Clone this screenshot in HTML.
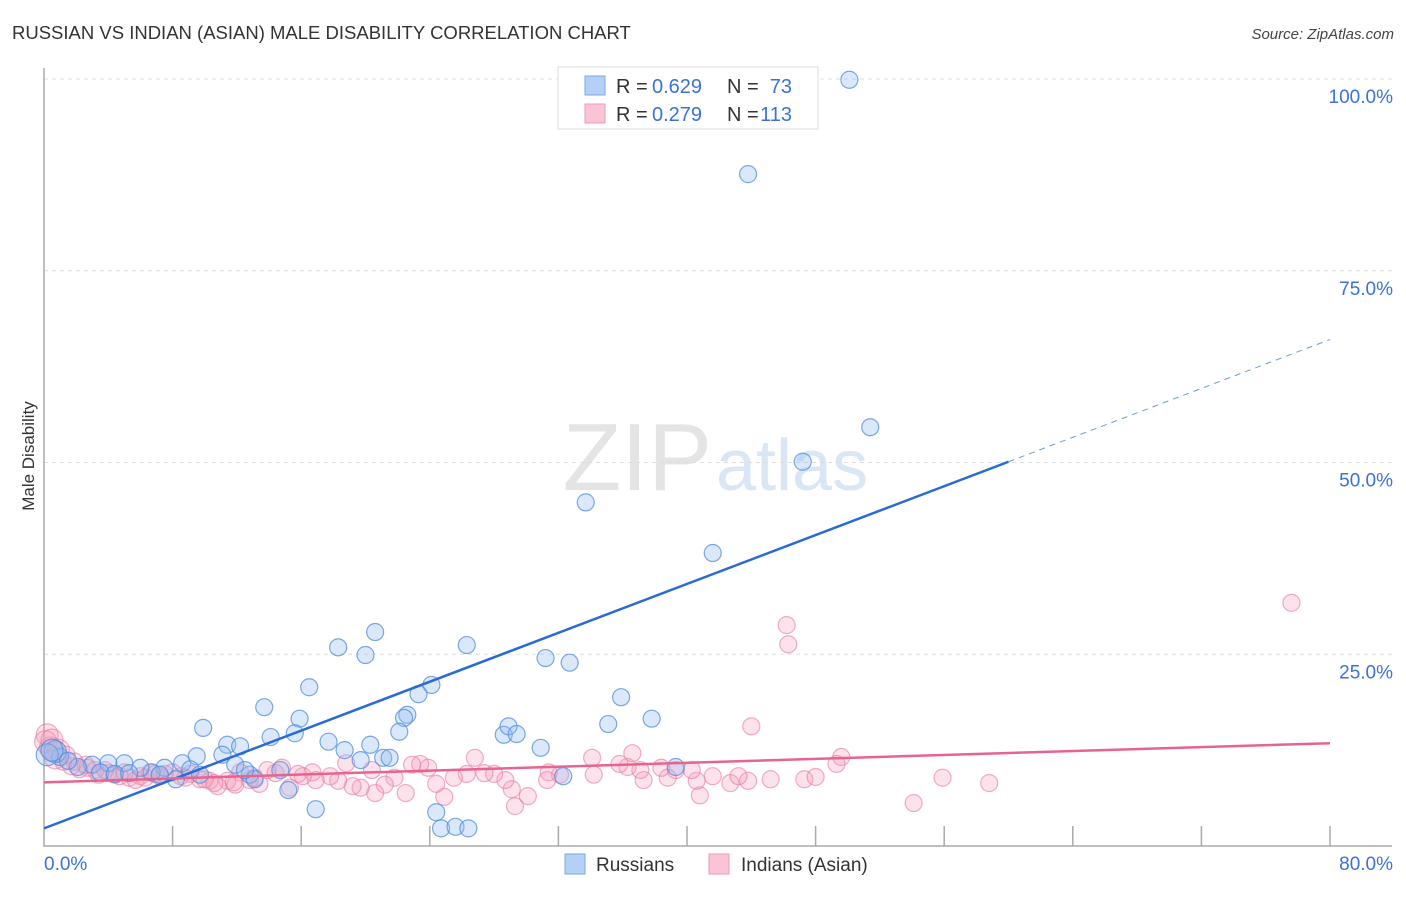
<!DOCTYPE html>
<html><head><meta charset="utf-8"><style>
body{margin:0;background:#fff;font-family:"Liberation Sans",sans-serif;}
svg text{font-family:"Liberation Sans",sans-serif;}
</style></head><body>
<svg id="chart" width="1406" height="892" viewBox="0 0 1406 892" xmlns="http://www.w3.org/2000/svg">
<text x="12" y="39" font-size="18.5" fill="#333">RUSSIAN VS INDIAN (ASIAN) MALE DISABILITY CORRELATION CHART</text>
<text x="1394" y="39" font-size="15" fill="#444" text-anchor="end" font-style="italic">Source: ZipAtlas.com</text>
<text x="712" y="490" font-size="96" fill="#e4e4e4" text-anchor="end" font-family="Liberation Serif">ZIP</text>
<text x="716" y="490" font-size="72" fill="#d8e6f6">atlas</text>
<g id="grid"></g>
<g id="marks"></g>
<text transform="translate(34,456) rotate(-90)" font-size="17" fill="#333" text-anchor="middle">Male Disability</text>
<g>
<rect x="558" y="67" width="260" height="62" fill="#fff" stroke="#ddd"/>
<rect x="585" y="76" width="20" height="19" fill="#b5d0f5" stroke="#7aa8e8"/>
<rect x="585" y="104" width="20" height="19" fill="#f9c5d5" stroke="#ee9ab5"/>
<text x="616" y="93" font-size="20" fill="#333">R =</text>
<text x="652" y="93" font-size="20" fill="#3a72d8">0.629</text>
<text x="727" y="93" font-size="20" fill="#333">N =</text>
<text x="792" y="93" font-size="20" fill="#3a72d8" text-anchor="end">73</text>
<text x="616" y="121" font-size="20" fill="#333">R =</text>
<text x="652" y="121" font-size="20" fill="#3a72d8">0.279</text>
<text x="727" y="121" font-size="20" fill="#333">N =</text>
<text x="792" y="121" font-size="20" fill="#3a72d8" text-anchor="end">113</text>
</g>
<g>
<rect x="565" y="854" width="20" height="20" fill="#b5d0f5" stroke="#7aa8e8"/>
<text x="596" y="871" font-size="19" fill="#333">Russians</text>
<rect x="709" y="854" width="20" height="20" fill="#f9c5d5" stroke="#ee9ab5"/>
<text x="741" y="871" font-size="19" fill="#333">Indians (Asian)</text>
</g>
</svg>
<script>
const yTicks=[25,50,75,100];
const xTickLabels=["0.0%","80.0%"];
const russX=[50.1,43.8,47.2,51.4,33.7,41.6,20.6,18.3,20.0,26.3,31.2,32.7,16.5,24.1,23.3,13.7,15.9,15.6,22.6,22.4,22.1,9.9,14.1,17.7,18.7,20.3,21.1,21.5,11.4,12.2,11.1,9.5,11.9,8.6,9.1,8.2,7.5,6.7,6.0,5.0,4.0,3.0,2.1,1.0,0.7,1.5,3.5,4.4,5.3,7.2,12.8,13.1,15.2,16.9,24.4,24.7,25.6,26.4,28.6,28.9,29.4,30.9,32.3,35.1,35.9,37.8,39.3,0.2,0.5,9.7,12.5,14.7,19.7];
const russY=[99.9,87.6,50.1,54.6,44.8,38.2,27.9,25.9,24.9,26.2,24.5,23.9,20.7,21.0,19.8,18.1,16.6,14.7,17.1,16.7,14.9,15.4,14.2,13.6,12.5,13.2,11.5,11.5,13.2,13.0,11.9,11.7,10.6,10.8,10.0,8.7,10.2,9.6,10.2,10.8,10.8,10.6,10.3,11.6,12.3,11.1,9.6,9.4,9.5,9.3,9.3,8.7,7.3,4.8,4.4,2.3,2.5,2.3,14.5,15.6,14.6,12.8,9.1,15.9,19.4,16.6,10.3,11.9,12.5,9.3,9.9,9.9,11.2];
const indX=[77.6,46.2,46.3,44.0,49.6,49.3,54.1,55.9,58.8,47.3,48.0,45.2,43.8,42.7,43.2,41.6,40.8,40.6,40.3,39.3,38.8,38.4,37.3,37.1,36.3,36.6,35.8,34.1,34.2,32.1,31.4,31.3,30.1,29.3,29.1,28.7,28.0,27.4,26.8,26.3,25.5,24.9,24.4,23.9,23.4,22.9,22.5,21.8,21.2,20.6,20.4,19.7,19.2,18.8,18.3,17.8,16.9,16.7,16.1,15.8,15.3,14.8,14.4,13.9,13.4,12.8,12.2,11.8,11.4,10.8,10.3,9.7,9.1,8.5,8.0,7.2,6.6,6.0,5.3,4.7,4.0,3.4,2.7,2.2,1.7,1.2,0.7,0.4,0.2,0.1,0.5,0.9,1.4,1.9,2.6,3.2,3.8,4.4,5.0,5.7,6.3,6.9,7.5,8.8,10.0,10.6,11.9,13.1];
const indY=[31.7,28.8,26.3,15.6,11.6,10.7,5.6,8.9,8.2,8.7,9.0,8.7,8.5,8.2,9.1,9.1,6.6,8.5,9.9,9.9,8.9,10.2,8.6,9.9,10.3,12.1,10.7,11.5,9.3,9.3,9.6,8.6,6.5,5.2,7.4,8.6,9.4,9.5,11.5,9.4,8.9,6.4,8.1,10.2,10.7,10.6,6.9,8.9,8.0,6.9,9.9,7.6,7.8,10.8,8.5,9.1,8.6,9.6,9.1,9.4,7.6,10.2,9.5,9.9,8.1,8.6,9.6,8.3,8.5,7.8,8.5,8.7,9.4,9.1,9.6,9.1,9.6,9.1,8.9,9.1,9.5,9.3,10.2,10.0,10.4,11.0,11.5,12.8,14.5,13.6,13.8,12.5,11.9,11.0,10.6,9.9,9.9,9.3,9.6,8.6,8.9,9.4,9.4,8.9,8.7,8.2,8.0,8.9];
const russTrend=[2.3,50.1];
const indTrend=[8.3,13.4];
const NS='http://www.w3.org/2000/svg';
const X0=44,X1=1330,Y0=846,Y100=79;
const sx=v=>X0+(X1-X0)*v/80;
const sy=v=>Y0-(Y0-Y100)*v/100;
function mk(tag,attrs,parent){const e=document.createElementNS(NS,tag);for(const k in attrs)e.setAttribute(k,attrs[k]);parent.appendChild(e);return e;}
const grid=document.getElementById('grid'),marks=document.getElementById('marks');
yTicks.forEach(t=>{
  const l=mk('line',{x1:X0,x2:1392,y1:sy(t),y2:sy(t),stroke:'#ddd','stroke-dasharray':'4,4'},grid);
  
  
  const tx=mk('text',{x:1393,y:sy(t)+24,'font-size':19,fill:'#3a72d8','text-anchor':'end'},grid);
  tx.textContent=t.toFixed(1)+'%';
  
  
});
const ax=mk('path',{d:`M${X0},68 V${Y0} H1392`,stroke:'#aaa',fill:'none','stroke-width':1.5},grid);


for(let i=1;i<=10;i++){
  const tk=mk('line',{x1:sx(i*8),x2:sx(i*8),y1:826,y2:Y0,stroke:'#aaa','stroke-width':1.5},grid);
  
  
}
xTickLabels.forEach((s,i)=>{
  const tx=mk('text',{x:i?1393:44,y:870,'font-size':19,fill:'#3a72d8','text-anchor':i?'end':'start'},grid);
  tx.textContent=s;
  
  
});
indX.forEach((x,i)=>{
  const c=mk('circle',{cx:sx(x),cy:sy(indY[i]),r:x<1?11:8.5,fill:'rgba(245,160,190,0.3)',stroke:'rgba(232,120,160,0.6)','stroke-width':1.2},marks);
  
  
});
russX.forEach((x,i)=>{
  const c=mk('circle',{cx:sx(x),cy:sy(russY[i]),r:x<1?11:8.5,fill:'rgba(150,190,240,0.35)',stroke:'rgba(80,140,220,0.75)','stroke-width':1.2},marks);
  
  
});
const ry=x=>russTrend[0]+(russTrend[1]-russTrend[0])*x/60;
const t1=mk('line',{x1:sx(0),y1:sy(ry(0)),x2:sx(60),y2:sy(ry(60)),stroke:'#2a6ad6','stroke-width':2.5},marks);


const t2=mk('line',{x1:sx(60),y1:sy(ry(60)),x2:sx(80),y2:sy(ry(80)),stroke:'#6a9ae0','stroke-width':1,'stroke-dasharray':'6,5'},marks);


const t3=mk('line',{x1:sx(0),y1:sy(indTrend[0]),x2:sx(80),y2:sy(indTrend[1]),stroke:'#e8648e','stroke-width':2.5},marks);


</script>
</body></html>
